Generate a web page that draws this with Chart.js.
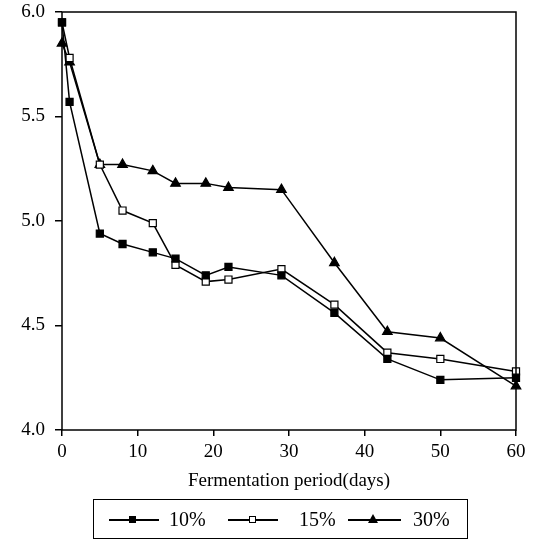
<!DOCTYPE html>
<html>
<head>
<meta charset="utf-8">
<script src="https://cdn.jsdelivr.net/npm/chart.js@4/dist/chart.umd.min.js"></script>
<style>
  html, body { margin: 0; padding: 0; background: #fff; }
  #wrap { position: relative; width: 536px; height: 542px; }
  #phChart { position: absolute; left: 0; top: 0; }
  #legend {
    position: absolute; left: 93px; top: 499px; width: 375px; height: 40px;
    border: 1.5px solid #000; box-sizing: border-box;
    font-family: "Liberation Serif", "Times New Roman", serif; font-size: 20px; color: #000;
  }
  .line { position: absolute; top: 19px; height: 1.5px; background: #000; }
  .mark { position: absolute; }
  .sq { width: 7px; height: 7px; top: 16px; background: #000; }
  .sq.open { width: 5px; height: 5px; top: 16px; background: #fff; border: 1.5px solid #000; }
  .tri { width: 0; height: 0; top: 14px; border-left: 5px solid transparent; border-right: 5px solid transparent; border-bottom: 9px solid #000; }
  .lbl { position: absolute; top: 8px; line-height: 22px; }
</style>
</head>
<body>
<div id="wrap">
  <canvas id="phChart" width="536" height="542"></canvas>
  <div id="legend"></div>
</div>
<script>
// ==========================
// DATA
// ==========================
const days = [0, 1, 5, 8, 12, 15, 19, 22, 29, 36, 43, 50, 60];
const ph10 = [5.95, 5.57, 4.94, 4.89, 4.85, 4.82, 4.74, 4.78, 4.74, 4.56, 4.34, 4.24, 4.25];
const ph15 = [5.95, 5.78, 5.27, 5.05, 4.99, 4.79, 4.71, 4.72, 4.77, 4.60, 4.37, 4.34, 4.28];
const ph30 = [5.85, 5.76, 5.27, 5.27, 5.24, 5.18, 5.18, 5.16, 5.15, 4.80, 4.47, 4.44, 4.21];
const seriesLabels = ["10%", "15%", "30%"];
const xTicks = [0, 10, 20, 30, 40, 50, 60];
const yTicks = [4.0, 4.5, 5.0, 5.5, 6.0];

const FONT = "'Liberation Serif', 'Times New Roman', serif";

function toPoints(values) {
  return days.map((d, i) => ({ x: d, y: values[i] }));
}

// frame round the plot (top + right sides included)
const frame = {
  id: "frame",
  afterDatasetsDraw(chart) {
    const a = chart.chartArea;
    const ctx = chart.ctx;
    ctx.save();
    ctx.strokeStyle = "#000";
    ctx.lineWidth = 1.5;
    ctx.strokeRect(a.left, a.top, a.right - a.left, a.bottom - a.top);
    ctx.restore();
  }
};

const baseSet = {
  borderColor: "#000",
  borderWidth: 1.5,
  tension: 0,
  pointBorderColor: "#000",
  pointBorderWidth: 1.2,
  clip: false
};

new Chart(document.getElementById("phChart"), {
  type: "line",
  data: {
    datasets: [
      Object.assign({}, baseSet, {
        label: seriesLabels[0], data: toPoints(ph10),
        pointStyle: "rect", pointRadius: 5, pointBackgroundColor: "#000"
      }),
      Object.assign({}, baseSet, {
        label: seriesLabels[1], data: toPoints(ph15),
        pointStyle: "rect", pointRadius: 5, pointBackgroundColor: "#fff"
      }),
      Object.assign({}, baseSet, {
        label: seriesLabels[2], data: toPoints(ph30),
        pointStyle: "triangle", pointRadius: 5.5, pointBackgroundColor: "#000"
      })
    ]
  },
  options: {
    responsive: false,
    animation: false,
    layout: { padding: { left: 0, top: 12, right: 20, bottom: 44 } },
    plugins: { legend: { display: false }, tooltip: { enabled: false } },
    scales: {
      x: {
        type: "linear",
        min: 0, max: 60,
        afterBuildTicks(scale) { scale.ticks = xTicks.map(v => ({ value: v })); },
        afterFit(scale) { scale.height = 68; },
        grid: { display: true, drawOnChartArea: false, drawTicks: true, tickLength: 6, color: "#000", lineWidth: 1.5 },
        border: { display: false },
        ticks: { color: "#000", padding: 5, maxRotation: 0, font: { family: FONT, size: 19 } },
        title: {
          display: true, text: "Fermentation period(days)", color: "#000",
          padding: { top: 0, bottom: 6 }, font: { family: FONT, size: 19 }
        }
      },
      y: {
        min: 4, max: 6,
        afterBuildTicks(scale) { scale.ticks = yTicks.map(v => ({ value: v })); },
        afterFit(scale) {
          scale.width = 62;
          // let the 6.0 label hang over the top edge instead of pushing the plot down
          scale.paddingTop = 0;
          scale.paddingBottom = 0;
        },
        grid: { display: true, drawOnChartArea: false, drawTicks: true, tickLength: 7, color: "#000", lineWidth: 1.5 },
        border: { display: false },
        ticks: {
          color: "#000", padding: 10, font: { family: FONT, size: 19 },
          callback: v => Number(v).toFixed(1)
        }
      }
    }
  },
  plugins: [frame]
});

// ==========================
// LEGEND (boxed, under the axis title)
// ==========================
const legendLayout = [
  { lineL: 15, lineW: 50, markL: 35, mark: "sq", textL: 75 },
  { lineL: 134, lineW: 50, markL: 155, mark: "sq open", textL: 205 },
  { lineL: 254, lineW: 53, markL: 274, mark: "tri", textL: 319 }
];
const legend = document.getElementById("legend");
seriesLabels.forEach((name, i) => {
  const p = legendLayout[i];
  legend.innerHTML += `
    <div class="line" style="left:${p.lineL}px;width:${p.lineW}px"></div>
    <div class="mark ${p.mark}" style="left:${p.markL}px"></div>
    <span class="lbl" style="left:${p.textL}px">${name}</span>
  `;
});
</script>
</body>
</html>
